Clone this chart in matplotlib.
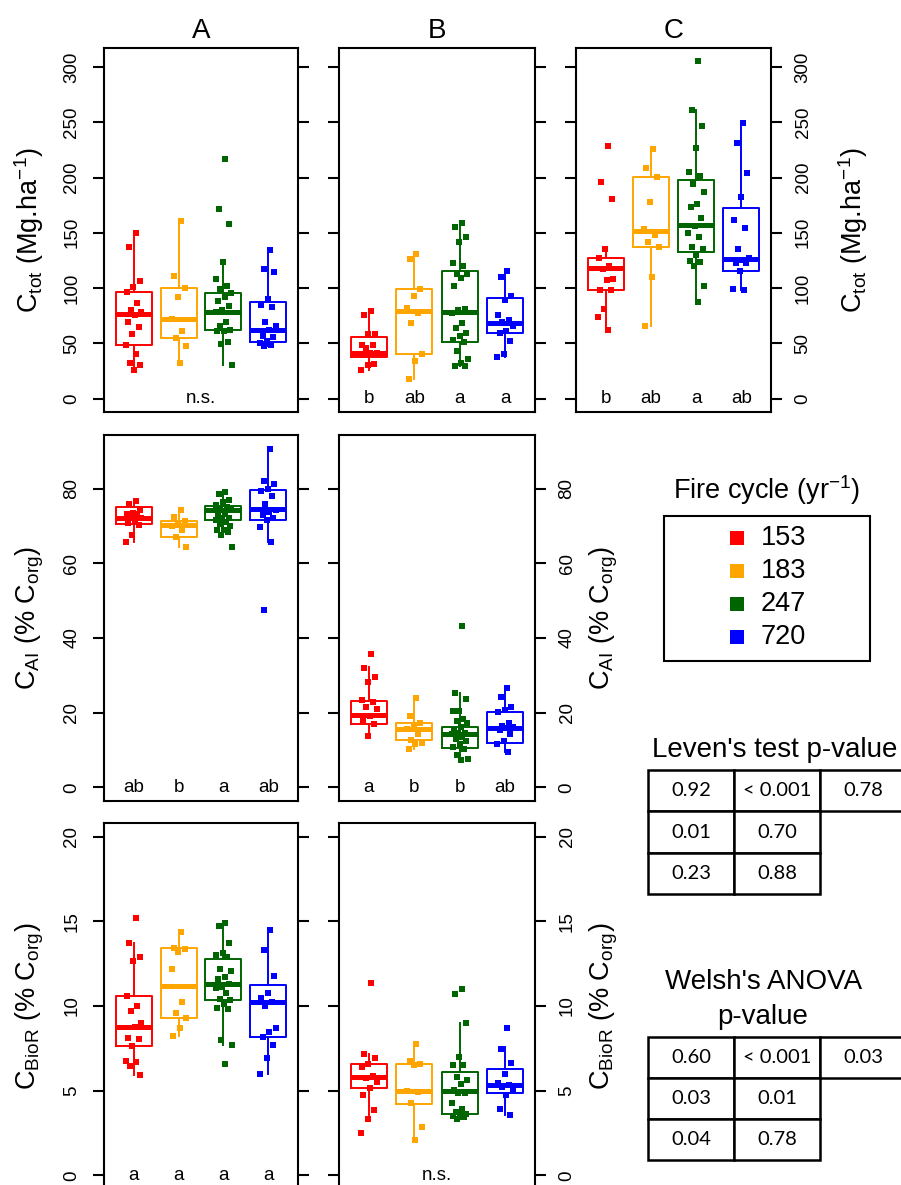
import matplotlib
matplotlib.use('Agg')
import matplotlib.pyplot as plt
from matplotlib.patches import Rectangle

plt.rcParams['font.family'] = ['Liberation Sans', 'DejaVu Sans']
plt.rcParams['mathtext.default'] = 'regular'

# fire cycle groups
cycles = ['153', '183', '247', '720']
colors = ['#FF0000', '#FFA500', '#006400', '#0000FF']

# ---------------------------------------------------------------------
# C_tot (Mg/ha) per plot, one list per fire cycle
# ---------------------------------------------------------------------
ctot_A = [
    [149.5, 137, 106, 101, 96, 86, 80, 78, 76, 69.5, 65, 58.7, 48, 40.6, 32, 30, 26],
    [161, 111, 99.6, 91.8, 72, 60.8, 54.8, 47.2, 32.2],
    [217, 171.5, 158, 123.7, 108, 102, 99, 95.4, 91.5, 88, 84, 80, 78.2, 69, 65.3,
     62.3, 61.4, 60.8, 51, 49.4, 30.1],
    [134.5, 117, 114.6, 90, 84.9, 82.7, 69, 65.3, 61.7, 56.3, 55.7, 51.8, 50.3, 48.4, 47.2],
]
ctot_B = [
    [78.8, 75.8, 58.4, 58.4, 48.7, 48.7, 45.7, 41.2, 41.2, 39.7, 31.3, 30.7, 25.6],
    [131, 126, 99, 93, 81.8, 77.3, 68.3, 40.6, 33.7, 18],
    [159, 155.6, 146, 142, 122.5, 119.5, 112.5, 112.5, 109.5, 101.4, 81, 80.3, 77.3,
     68.3, 63.8, 59.3, 56.3, 52.7, 50.9, 42.7, 35.8, 32.2, 29.2, 29.2],
    [115, 110.4, 93, 89.4, 75.8, 70.7, 68.9, 65.3, 60.8, 59.3, 51.8, 40.6, 37.3],
]
ctot_C = [
    [228.4, 196, 180.8, 135.1, 127, 120, 117, 108, 107.4, 98.4, 97.8, 81, 73.7, 62.3],
    [225.4, 209, 200.7, 177.8, 153.8, 148, 141.4, 137.5, 110.4, 65.3],
    [305, 261, 247, 227, 205, 201.3, 194, 187, 176, 173, 163, 156, 149.5, 146.5, 137.5,
     135.7, 130, 124, 123.7, 119.5, 101.4, 87],
    [249.7, 230.8, 204, 182.6, 162, 154.6, 135.4, 127, 125.5, 122.5, 122.5, 115, 99, 97.8],
]

# C_AI (% C_org)
cai_A = [
    [76.6, 75.8, 74.2, 73.5, 73.3, 73.1, 72.6, 72, 71.5, 70.8, 70.2, 67.5, 65.7],
    [74.2, 72.4, 71.3, 70.5, 69.9, 68.8, 67, 64.4],
    [79.1, 78.5, 76.9, 76.4, 75.5, 75.1, 74.6, 74.2, 73.3, 72.9, 72.2, 72, 71.5, 71.1,
     70.4, 69.9, 69, 69, 68.4, 67.5, 64.4],
    [90.7, 82, 81.3, 80, 79.4, 78, 75.8, 74.2, 73.7, 72.9, 72, 71.5, 69.7, 65.7, 47.4],
]
cai_B = [
    [35.8, 32, 29.5, 28.3, 23.4, 22.8, 21.6, 21, 19.2, 17.9, 17, 13.9],
    [23.9, 19.2, 17.2, 16.3, 15.6, 14.3, 12.7, 11.8, 11.6, 10.3],
    [43.1, 25.2, 23.7, 20.4, 20.4, 18.3, 17.9, 17.2, 16.1, 15.6, 14.7, 14.5, 14.3, 13.4,
     13, 12.5, 11.6, 10.7, 10.3, 8.8, 7.6, 7.3],
    [26.6, 24.3, 21.6, 20.7, 20.1, 17.2, 16.5, 16.1, 15.9, 15.4, 14.3, 12.5, 11.6, 9.4],
]

# C_BioR (% C_org)
bior_A = [
    [15.2, 13.7, 12.9, 12.65, 10.58, 9.99, 9.69, 9.0, 8.77, 8.1, 8.08, 7.65, 6.74, 6.7,
     6.44, 5.91],
    [14.38, 13.4, 13.34, 13.2, 12.18, 10.25, 9.56, 9.32, 8.73, 8.22],
    [14.88, 14.74, 13.73, 13.14, 13.0, 12.9, 12.2, 12.06, 11.72, 11.6, 11.29, 11.13,
     11.09, 10.74, 10.44, 10.34, 10.1, 9.89, 9.85, 7.98, 7.68, 6.56],
    [14.48, 13.3, 11.76, 10.74, 10.5, 10.25, 9.99, 8.73, 8.47, 8.18, 7.68, 6.96, 5.97],
]
bior_B = [
    [11.37, 7.15, 6.96, 6.56, 6.4, 5.85, 5.77, 5.52, 5.18, 4.73, 3.84, 3.35, 2.5],
    [7.74, 6.76, 6.56, 6.5, 4.99, 4.93, 4.28, 2.86, 2.1],
    [10.98, 10.7, 8.97, 7.0, 6.5, 6.5, 5.81, 5.62, 5.42, 5.02, 4.87, 4.87, 4.28, 3.94,
     3.74, 3.65, 3.55, 3.49, 3.45, 3.35],
    [8.73, 7.49, 6.64, 6.01, 5.46, 5.32, 5.22, 5.12, 4.73, 3.94, 3.55],
]

# box statistics: (q1, median, q3, lower whisker, upper whisker)
ctot_A_box = [(48.1, 76.4, 96.3, 26.2, 149.5), (54.8, 72.2, 99.6, 31.6, 161),
              (62.3, 78.2, 95.4, 30.1, 124), (51.5, 61.7, 87, 47.2, 134.5)]
ctot_B_box = [(37.6, 41.2, 55.4, 26.2, 80.3), (40.3, 79.1, 99, 18, 131.5),
              (51.2, 77.9, 115.5, 29.2, 160), (59.3, 68.3, 90.9, 37.3, 115.5)]
ctot_C_box = [(98.4, 118, 127.6, 62.3, 136), (137.5, 152, 200.7, 65.3, 225),
              (133, 157, 197.4, 87, 261), (115.8, 126, 172, 98.4, 249.7)]
cai_A_box = [(70.6, 72.2, 75.1, 65.7, 76.9), (67, 70.2, 71.3, 64.4, 74.2),
             (71.7, 74.2, 75.4, 67.5, 79.1), (71.7, 74.4, 79.6, 65.7, 90.7)]
cai_B_box = [(17, 19.4, 23.2, 13.9, 32.2), (12.7, 15.6, 17.2, 10.3, 23.9),
             (10.5, 14.3, 16.3, 7.3, 25.2), (11.8, 15.9, 20.3, 9.4, 26.6)]
bior_A_box = [(7.65, 8.77, 10.58, 5.91, 13.73), (9.32, 11.2, 13.4, 8.22, 14.38),
              (10.38, 11.29, 12.75, 7.68, 14.88), (8.18, 10.25, 11.21, 5.97, 14.48)]
bior_B_box = [(5.18, 5.81, 6.56, 3.35, 7.19), (4.24, 4.99, 6.56, 2.1, 7.74),
              (3.65, 4.99, 6.11, 3.35, 8.97), (4.87, 5.32, 6.31, 3.55, 7.59)]

# post-hoc letters
ctot_A_let = 'n.s.'
ctot_B_let = ['b', 'ab', 'a', 'a']
ctot_C_let = ['b', 'ab', 'a', 'ab']
cai_A_let = ['ab', 'b', 'a', 'ab']
cai_B_let = ['a', 'b', 'b', 'ab']
bior_A_let = ['a', 'a', 'a', 'a']
bior_B_let = 'n.s.'

# p-value tables
levene = [['0.92', '< 0.001', '0.78'], ['0.01', '0.70', ''], ['0.23', '0.88', '']]
welsh = [['0.60', '< 0.001', '0.03'], ['0.03', '0.01', ''], ['0.04', '0.78', '']]

ylab_tot = 'C$_{tot}$ (Mg.ha$^{-1}$)'
ylab_ai = 'C$_{AI}$ (% C$_{org}$)'
ylab_bior = 'C$_{BioR}$ (% C$_{org}$)'

# ---------------------------------------------------------------------
W, H = 901, 1185
fig = plt.figure(figsize=(W / 100, H / 100), dpi=100)

cols_px = [(104, 194), (339, 196), (576, 195)]
rows_px = [(48, 364), (435, 366), (823, 366)]
row_top = [305, 90.7, 20]
row_ticks = [range(0, 301, 50), range(0, 81, 20), range(0, 21, 5)]


def jitter(k):
    # evenly spread horizontal offsets for the strip points
    return (((k + 1) * 0.6180339887) % 1.0 - 0.5) * 0.38


def draw_panel(col, row, groups, boxes, letters, side=None, ylabel=None, lab_x=0):
    l, w = cols_px[col]
    t, h = rows_px[row]
    ax = fig.add_axes([l / W, 1 - (t + h) / H, w / W, h / H])

    stats = [dict(q1=b[0], med=b[1], q3=b[2], whislo=b[3], whishi=b[4], fliers=[])
             for b in boxes]
    art = ax.bxp(stats, positions=[1, 2, 3, 4], widths=0.8, showcaps=False,
                 showfliers=False)
    for i, c in enumerate(colors):
        art['boxes'][i].set(color=c, linewidth=1.4)
        art['medians'][i].set(color=c, linewidth=3.6, solid_capstyle='butt')
        art['whiskers'][2 * i].set(color=c, linewidth=1.4)
        art['whiskers'][2 * i + 1].set(color=c, linewidth=1.4)
        vals = groups[i]
        xs = [i + 1 + jitter(k) for k in range(len(vals))]
        ax.plot(xs, vals, ls='', marker='s', ms=3.8, mew=0, color=c, zorder=3)

    if isinstance(letters, str):
        ax.text(2.5, 0, letters, ha='center', va='center', fontsize=13.5)
    else:
        for i, s in enumerate(letters):
            ax.text(i + 1, 0, s, ha='center', va='center', fontsize=13.5)

    top = row_top[row]
    ax.set_xlim(0.34, 4.66)
    ax.set_ylim(-0.04 * top, 1.04 * top)
    ax.set_xticks([])
    ax.set_yticks(list(row_ticks[row]))
    ax.tick_params(axis='y', left=True, right=True, labelleft=(side == 'left'),
                   labelright=(side == 'right'), direction='out', length=8, width=1.5,
                   labelsize=13.5, pad=9, labelrotation=90)
    plt.setp(ax.yaxis.get_majorticklabels(), va='center')
    for sp in ax.spines.values():
        sp.set_linewidth(1.5)

    if ylabel:
        ax.set_ylabel(ylabel, fontsize=19.5)
        if side == 'right':
            ax.yaxis.set_label_position('right')
        ax.yaxis.set_label_coords(lab_x, 0.5)
    return ax


axA = draw_panel(0, 0, ctot_A, ctot_A_box, ctot_A_let, 'left', ylab_tot, -0.30)
axB = draw_panel(1, 0, ctot_B, ctot_B_box, ctot_B_let)
axC = draw_panel(2, 0, ctot_C, ctot_C_box, ctot_C_let, 'right', ylab_tot, 1.335)
draw_panel(0, 1, cai_A, cai_A_box, cai_A_let, 'left', ylab_ai, -0.30)
draw_panel(1, 1, cai_B, cai_B_box, cai_B_let, 'right', ylab_ai, 1.27)
draw_panel(0, 2, bior_A, bior_A_box, bior_A_let, 'left', ylab_bior, -0.30)
draw_panel(1, 2, bior_B, bior_B_box, bior_B_let, 'right', ylab_bior, 1.27)

for ax, name in zip([axA, axB, axC], ['A', 'B', 'C']):
    ax.set_title(name, fontsize=20, pad=7)

# ---------------------------------------------------------------------
# legend and statistics tables, laid out in pixel units
ov = fig.add_axes([0, 0, 1, 1], zorder=-1)
ov.set_xlim(0, W)
ov.set_ylim(H, 0)
ov.axis('off')

ov.text(767, 490, 'Fire cycle (yr$^{-1}$)', ha='center', va='center', fontsize=19.5)
ov.add_patch(Rectangle((664, 516), 206, 145, fill=False, lw=1.5, ec='black'))
for i, (lab, c) in enumerate(zip(cycles, colors)):
    y = 538 + 33 * i
    ov.plot(737, y, ls='', marker='s', ms=9.5, mew=0, color=c)
    ov.text(761, y, lab, ha='left', va='center', fontsize=19.5)


def draw_table(cells, top, bottom):
    tb = ov.table(cellText=cells, cellLoc='center',
                  bbox=[648 / W, 1 - bottom / H, 258 / W, (bottom - top) / H])
    tb.auto_set_font_size(False)
    for (r, c), cell in tb.get_celld().items():
        cell.set_linewidth(1.8)
        cell.get_text().set_fontsize(14.5)
        cell.get_text().set_fontfamily(['Lato', 'DejaVu Sans'])
        if cells[r][c] == '':
            cell.visible_edges = ''
    return tb


ov.text(775, 750, "Leven's test p-value", ha='center', va='center', fontsize=20)
draw_table(levene, 770, 894)

ov.text(764, 982, "Welsh's ANOVA", ha='center', va='center', fontsize=20)
ov.text(763, 1017, 'p-value', ha='center', va='center', fontsize=20)
draw_table(welsh, 1037, 1160)

fig.savefig('out.png', dpi=100)
